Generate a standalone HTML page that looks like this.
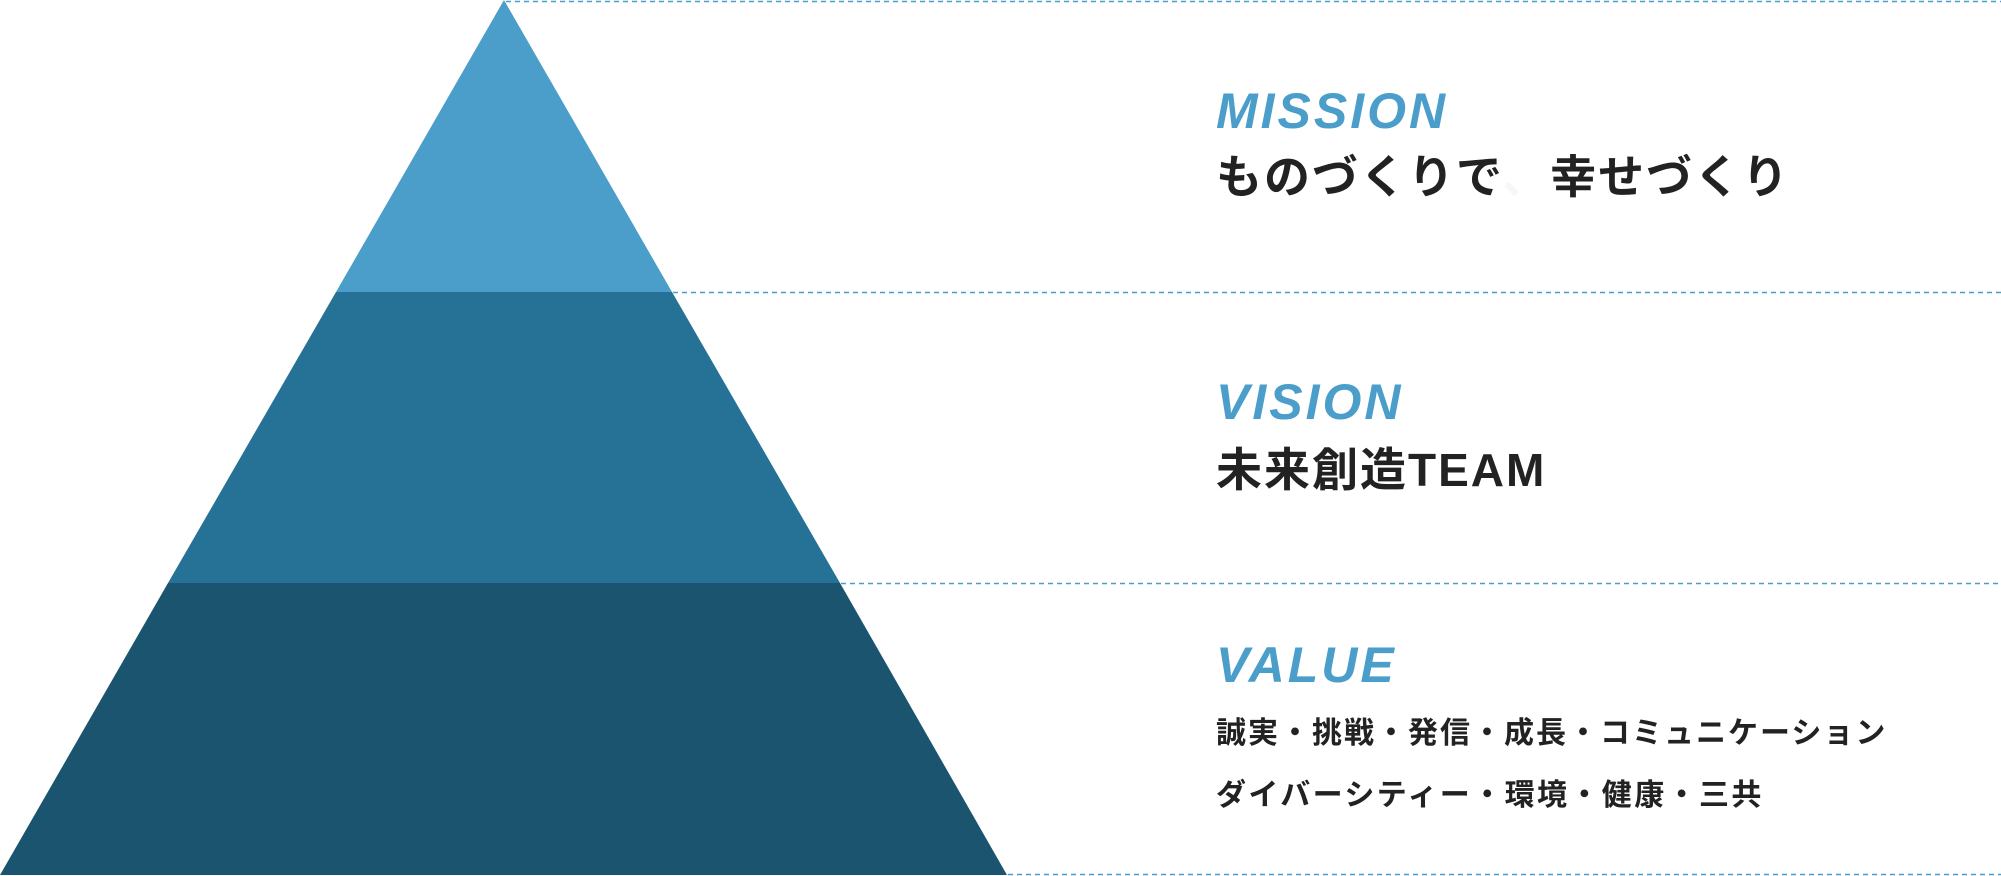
<!DOCTYPE html>
<html><head><meta charset="utf-8"><style>
html,body{margin:0;padding:0;background:#fff;}
body{width:2001px;height:876px;position:relative;overflow:hidden;}
.t{position:absolute;left:1216px;line-height:1;white-space:nowrap;}
.h{font-family:"Liberation Sans",sans-serif;font-weight:bold;font-style:italic;font-size:50px;letter-spacing:3px;color:#4a9ec9;}
.m{font-family:"Liberation Sans","Noto Sans CJK JP",sans-serif;font-weight:bold;font-size:46px;letter-spacing:2px;color:#222;}
.v{font-family:"Liberation Sans","Noto Sans CJK JP",sans-serif;font-weight:bold;font-size:30px;letter-spacing:2px;color:#222;}
</style></head><body>
<svg width="2001" height="876" style="position:absolute;left:0;top:0">
<polygon points="504,0 336,292 672,292" fill="#4a9ec9"/>
<polygon points="336,292 672,292 840,583 168,583" fill="#267196"/>
<polygon points="168,583 840,583 1007,875 0,875" fill="#1b546f"/>
<g stroke="#4a9ec9" stroke-width="1.5" stroke-dasharray="5,4">
<line x1="506" y1="1.5" x2="2001" y2="1.5"/>
<line x1="673" y1="292.5" x2="2001" y2="292.5"/>
<line x1="841" y1="583.5" x2="2001" y2="583.5"/>
<line x1="1008" y1="874.5" x2="2001" y2="874.5"/>
</g>
</svg>
<div class="t h" style="top:86px">MISSION</div>
<div class="t m" style="top:154px">ものづくりで<span style="color:#f7f7f7">、</span>幸せづくり</div>
<div class="t h" style="top:377px">VISION</div>
<div class="t m" style="top:447px">未来創造TEAM</div>
<div class="t h" style="top:640px">VALUE</div>
<div class="t v" style="top:719px">誠実・挑戦・発信・成長・コミュニケーション</div>
<div class="t v" style="top:781px;letter-spacing:2.4px">ダイバーシティー・環境・健康・三共</div>
</body></html>
